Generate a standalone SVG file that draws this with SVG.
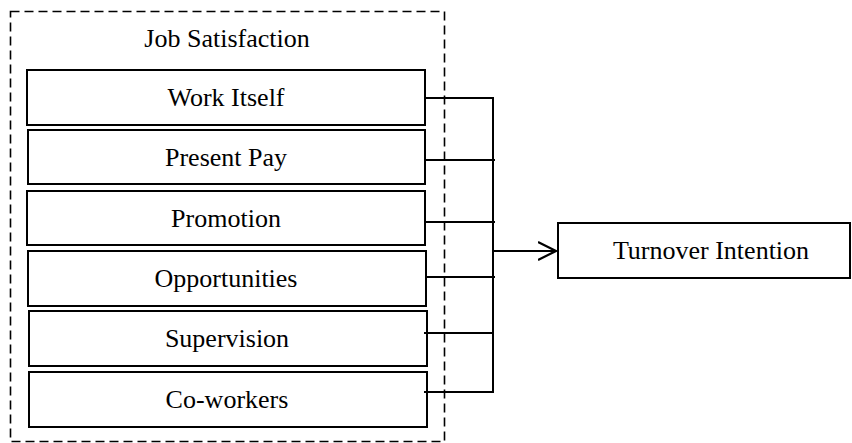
<svg xmlns="http://www.w3.org/2000/svg" width="852" height="443" viewBox="0 0 852 443">
<style>
.box{fill:#fff;stroke:#000;stroke-width:2}
.lbl{font-family:"Liberation Serif","Times New Roman",serif;font-size:26px;fill:#000;text-anchor:middle}
.con{fill:none;stroke:#000;stroke-width:2}
.dash{fill:none;stroke:#000;stroke-width:1.6;stroke-dasharray:9 5}
</style>
<defs>
<marker id="arr" markerWidth="20" markerHeight="22" refX="18" refY="10" orient="auto" markerUnits="userSpaceOnUse">
<path d="M0,1 L18,10 L0,19" fill="none" stroke="#000" stroke-width="2.2"/>
</marker>
</defs>
<rect fill="#fff" width="852" height="443"/>
<g id="job-satisfaction">
<rect class="dash" x="10.5" y="11.5" width="434" height="430"/>
<text class="lbl" x="227" y="47">Job Satisfaction</text>
</g>
<g id="work-itself"><rect class="box" x="27" y="70" width="398" height="55"/><text class="lbl" x="226" y="106">Work Itself</text></g>
<g id="present-pay"><rect class="box" x="28" y="130" width="397" height="54"/><text class="lbl" x="226" y="166">Present Pay</text></g>
<g id="promotion"><rect class="box" x="27" y="191" width="398" height="54"/><text class="lbl" x="226" y="227">Promotion</text></g>
<g id="opportunities"><rect class="box" x="28" y="251" width="398" height="55"/><text class="lbl" x="226" y="287">Opportunities</text></g>
<g id="supervision"><rect class="box" x="29" y="311" width="398" height="55"/><text class="lbl" x="227" y="347">Supervision</text></g>
<g id="co-workers"><rect class="box" x="29" y="372" width="398" height="55"/><text class="lbl" x="227" y="408">Co-workers</text></g>
<g id="turnover-intention"><rect class="box" x="558" y="223" width="292" height="55"/><text class="lbl" x="711" y="259">Turnover Intention</text></g>
<g id="connectors">
<path class="con" d="M425,98 H493 V392 H424"/>
<path class="con" d="M425,160 H495"/>
<path class="con" d="M425,222 H495"/>
<path class="con" d="M426,277 H495"/>
<path class="con" d="M424,333 H493"/>
<path class="con" d="M492,251 H556" marker-end="url(#arr)"/>
</g>
</svg>
